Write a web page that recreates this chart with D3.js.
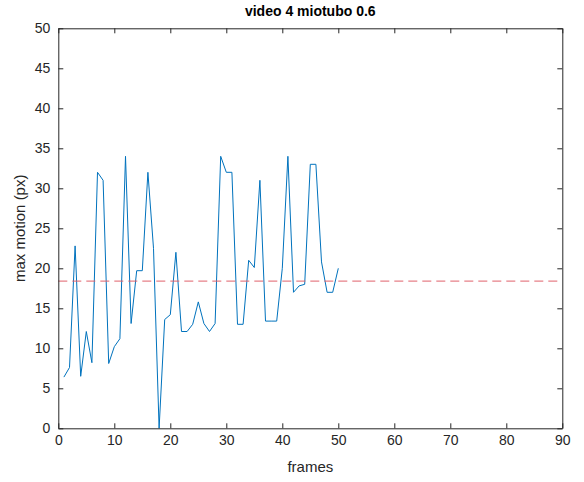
<!DOCTYPE html>
<html><head><meta charset="utf-8">
<script src="https://cdn.jsdelivr.net/npm/d3@7"></script>
<style>body{margin:0;background:#fff;} svg{display:block;}</style>
</head><body>
<svg id="c" width="584" height="482"></svg>
<script>
const frames = d3.range(1, 51);
const maxMotion = [6.4,7.6,22.8,6.5,12.1,8.2,32,31,8.1,10.2,11.2,34,13.1,19.7,19.7,32,22.5,0,13.6,14.2,
  22,12.1,12.1,13,15.8,13.1,12.1,13.1,34,32,32,13,13,21,20.1,31,13.4,13.4,13.4,20,
  34,17,17.8,18,33,33,20.8,17,17,20];
const threshold = 18.4;
const xTicks = [0,10,20,30,40,50,60,70,80,90];
const yTicks = [0,5,10,15,20,25,30,35,40,45,50];
const title = "video 4 miotubo 0.6";
const xLabel = "frames";
const yLabel = "max motion (px)";

const svg = d3.select("#c");
const L = 58.3, R = 562.3, T = 28.3, B = 428.3;
const x = d3.scaleLinear().domain([0,90]).range([L,R]);
const y = d3.scaleLinear().domain([0,50]).range([B,T]);
const axCol = "#262626";
const font = "'Liberation Sans', Arial, sans-serif";

// data line
svg.append("path")
  .datum(frames.map((f,i)=>[f,maxMotion[i]]))
  .attr("fill","none").attr("stroke","#0072BD").attr("stroke-width",1)
  .attr("d", d3.line().x(d=>x(d[0])).y(d=>y(d[1])));

// threshold
svg.append("line")
  .attr("x1",x(0)).attr("x2",x(90)).attr("y1",y(threshold)).attr("y2",y(threshold))
  .attr("stroke","#e0606a").attr("stroke-width",1).attr("stroke-dasharray","9,5");

// axes
const tl = 5;
const gx = svg.append("g").attr("transform",`translate(0,${B})`)
  .call(d3.axisBottom(x).tickValues(xTicks).tickSize(-tl).tickSizeOuter(0).tickPadding(7));
const gxt = svg.append("g").attr("transform",`translate(0,${T})`)
  .call(d3.axisTop(x).tickValues(xTicks).tickSize(-tl).tickSizeOuter(0).tickFormat(""));
const gy = svg.append("g").attr("transform",`translate(${L},0)`)
  .call(d3.axisLeft(y).tickValues(yTicks).tickSize(-tl).tickSizeOuter(0).tickPadding(8));
const gyr = svg.append("g").attr("transform",`translate(${R},0)`)
  .call(d3.axisRight(y).tickValues(yTicks).tickSize(-tl).tickSizeOuter(0).tickFormat(""));
[gx,gxt,gy,gyr].forEach(g=>{
  g.selectAll("path.domain").attr("stroke",axCol).attr("stroke-width",1);
  g.selectAll(".tick line").attr("stroke",axCol);
  g.selectAll("text").attr("fill",axCol).style("font-family",font).style("font-size","14px");
});

svg.append("text").attr("x",(L+R)/2).attr("y",16).attr("text-anchor","middle")
  .style("font-family",font).style("font-size","14px").style("font-weight","bold").attr("fill","#000")
  .text(title);
svg.append("text").attr("x",(L+R)/2).attr("y",472).attr("text-anchor","middle")
  .style("font-family",font).style("font-size","15px").attr("fill",axCol).text(xLabel);
svg.append("text").attr("transform",`translate(25,${(T+B)/2}) rotate(-90)`).attr("text-anchor","middle")
  .style("font-family",font).style("font-size","15px").attr("fill",axCol).text(yLabel);
</script>
</body></html>
